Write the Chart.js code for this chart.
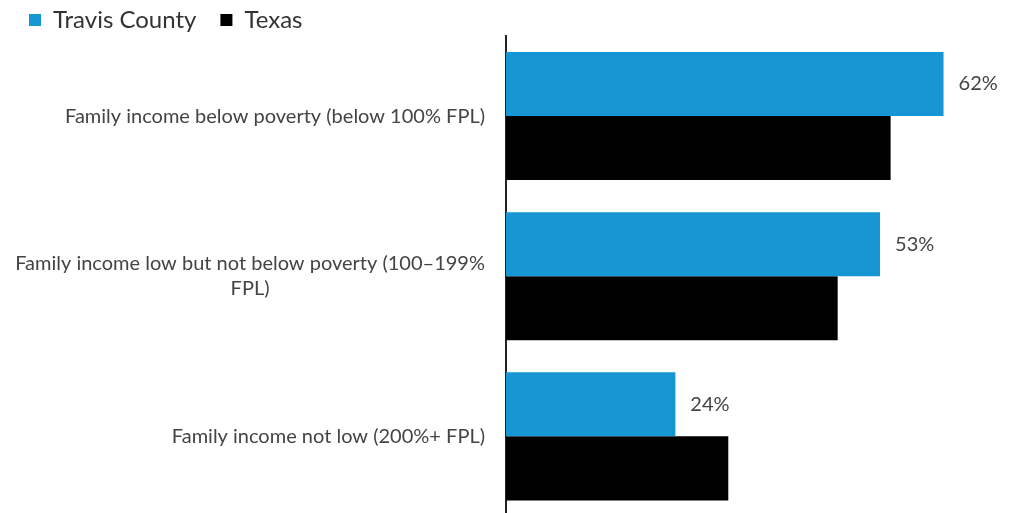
<!DOCTYPE html>
<html><head><meta charset="utf-8">
<script src="https://cdn.jsdelivr.net/npm/chart.js@4.4.0/dist/chart.umd.min.js"></script>
<style>html,body{margin:0;padding:0;overflow:hidden;background:#fff}canvas{display:block}</style>
</head><body><canvas id="c" width="1018" height="517"></canvas>
<script>
const categories = [
  ["Family income below poverty (below 100% FPL)"],
  ["Family income low but not below poverty (100–199%", "FPL)"],
  ["Family income not low (200%+ FPL)"]
];
const seriesNames = ["Travis County", "Texas"];
const travisValues = [62, 53, 24];
const texasValues = [54.5, 47, 31.5];
const colors = ["#1696d2", "#000000"];

const FONT = "Lato, 'Open Sans', sans-serif";

const legendHeight = {
  id: 'legendHeight',
  beforeInit(chart) {
    const fit = chart.legend.fit;
    chart.legend.fit = function () { fit.bind(chart.legend)(); this.height = 52; };
  }
};

const drawLabels = {
  id: 'drawLabels',
  afterDatasetsDraw(chart) {
    const ctx = chart.ctx;
    const ys = chart.scales.y;
    ctx.save();
    ctx.font = "20px " + FONT;
    ctx.fillStyle = "#444";
    ctx.textBaseline = "middle";
    const rightX = chart.chartArea.left - 21;
    const lh = 25;
    categories.forEach((lines, i) => {
      const cy = ys.getPixelForValue(i);
      const widest = Math.max(...lines.map(l => ctx.measureText(l).width));
      const top = cy - (lines.length - 1) * lh / 2;
      lines.forEach((l, j) => {
        const w = ctx.measureText(l).width;
        ctx.textAlign = "left";
        const x = rightX - widest + (widest - w) / 2;
        ctx.fillText(l, x, top + j * lh);
      });
    });
    const meta = chart.getDatasetMeta(0);
    ctx.textAlign = "left";
    ctx.fillStyle = "#444";
    meta.data.forEach((bar, i) => {
      ctx.fillText(travisValues[i] + "%", bar.x + 15, bar.y);
    });
    ctx.restore();
  }
};

new Chart(document.getElementById('c'), {
  type: 'bar',
  data: {
    labels: categories,
    datasets: [
      { label: seriesNames[0], data: travisValues, backgroundColor: colors[0], categoryPercentage: 0.8, barPercentage: 1.0 },
      { label: seriesNames[1], data: texasValues, backgroundColor: colors[1], categoryPercentage: 0.8, barPercentage: 1.0 }
    ]
  },
  options: {
    indexAxis: 'y',
    responsive: false,
    animation: false,
    layout: { padding: { left: 5, right: 18, top: -16, bottom: 0 } },
    plugins: {
      legend: {
        position: 'top', align: 'start',
        labels: { boxWidth: 12, boxHeight: 12, padding: 24, color: '#333', font: { family: FONT, size: 24 } }
      },
      tooltip: { enabled: false }
    },
    scales: {
      x: { display: false, min: 0, max: 70 },
      y: {
        grid: { display: false, drawTicks: false },
        border: { display: true, color: '#222', width: 2 },
        ticks: { color: 'rgba(0,0,0,0)', font: { family: FONT, size: 1 }, padding: 0 },
        afterFit(scale) { scale.width = 506 - 5; }
      }
    }
  },
  plugins: [legendHeight, drawLabels]
});
</script></body></html>
